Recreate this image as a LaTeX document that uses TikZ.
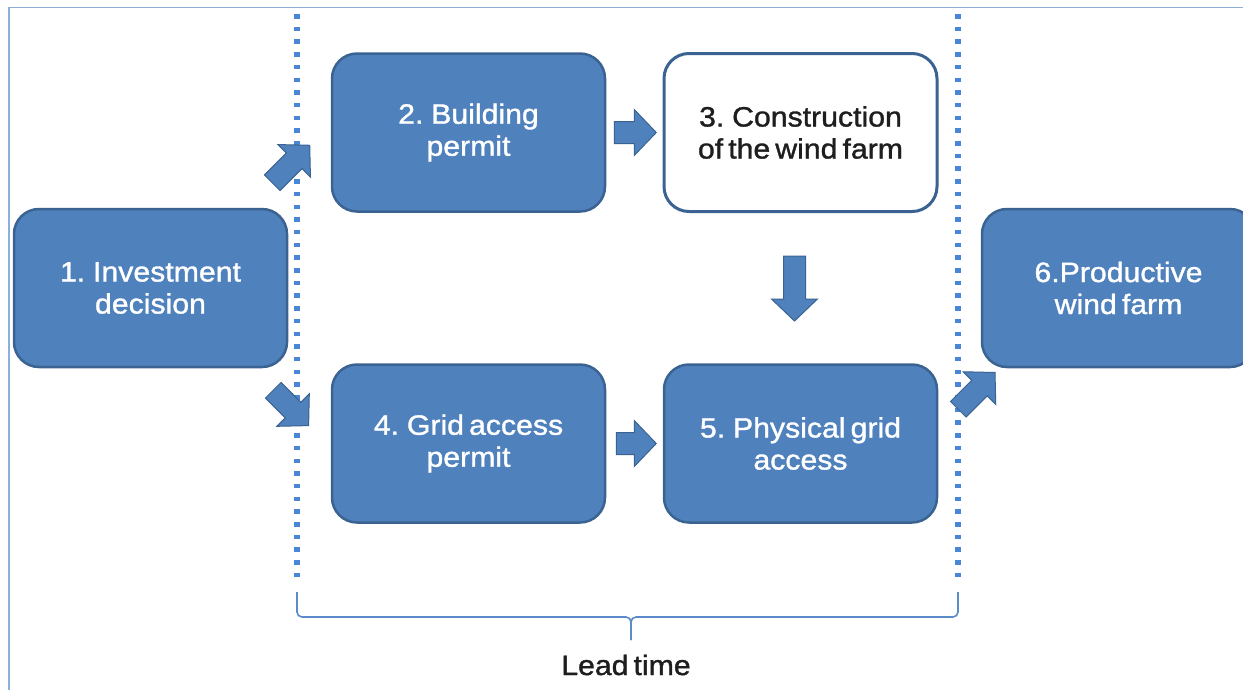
\documentclass[tikz,border=0pt]{standalone}
\usepackage{fontspec}
\setmainfont{Liberation Sans}
\newfontfamily\diagfont[FakeStretch=1.08, FakeBold=1.2, WordSpace=0.6]{Liberation Sans}
\usetikzlibrary{calc}

\definecolor{boxfill}{HTML}{4F81BD}
\definecolor{boxline}{HTML}{3A6391}
\definecolor{dotline}{HTML}{4A86D6}
\definecolor{framecol}{HTML}{8EB0D8}
\definecolor{bracecol}{HTML}{5B8BC9}
\definecolor{inktext}{HTML}{1E1E1E}

\tikzset{
  basebox/.style={rounded corners=25pt, minimum width=273pt, minimum height=158pt,
    line width=2.5pt, draw=boxline, align=center, inner sep=0pt,
    font=\diagfont\fontsize{28}{32}\selectfont},
  bluebox/.style={basebox, fill=boxfill, text=white},
  whitebox/.style={basebox, fill=white, text=inktext, line width=3pt},
  arrowshape/.style={fill=boxfill, draw=boxline, line width=1pt, line join=miter},
  pics/blockarrow/.style={code={
    \filldraw[arrowshape] (0,-11) -- ({#1-22},-11) -- ({#1-22},-23) -- (#1,0)
      -- ({#1-22},23) -- ({#1-22},11) -- (0,11) -- cycle;}},
  phase/.style={dotline, line width=5.5pt, dash pattern=on 4.5pt off 8.2pt},
  brace/.style={bracecol, line width=1.6pt, rounded corners=5pt},
}

\begin{document}
\begin{tikzpicture}[x=1pt, y=-1pt]
\useasboundingbox (0,0) rectangle (1243,689);
\clip (0,0) rectangle (1243,689);
\fill[white] (0,0) rectangle (1243,689);

% outer frame
\draw[framecol, line width=1.5pt] (9,700) -- (9,7.5) -- (1260,7.5);

% process steps
\node[bluebox]  (b1) at (150.5,288)   {1. Investment\\decision};
\node[bluebox]  (b2) at (468.5,132.5) {2. Building\\permit};
\node[whitebox] (b3) at (800.5,132.5) {3. Construction\\of the wind farm};
\node[bluebox]  (b4) at (468.5,443.5) {4. Grid access\\permit};
\node[bluebox]  (b5) at (800.5,443.5) {5. Physical grid\\access};
\node[bluebox]  (b6) at (1118.5,288)  {6.Productive\\wind farm};

% lead-time boundaries
\coordinate (l1) at (297,14);
\coordinate (l2) at (297,582);
\coordinate (r1) at (958,14);
\coordinate (r2) at (958,582);
\draw[phase] (l1) -- (l2);
\draw[phase] (r1) -- (r2);

% block arrows between the steps
\pic[rotate=45]  at ($(b1.north east)+(-16,-25)$) {blockarrow=53};
\pic[rotate=-45] at ($(b1.south east)+(-15,22)$)  {blockarrow=50};
\pic             at ($(b2.east)+(8,0)$)           {blockarrow=42};
\pic             at ($(b4.east)+(10,0)$)          {blockarrow=40};
\pic[rotate=-90] at ($(b3.south)+(-6,43)$)        {blockarrow=65};
\pic[rotate=45]  at ($(b5.north east)+(20,46)$)   {blockarrow=52};

% brace under the lead-time span
\coordinate (bl) at (297,592);
\coordinate (br) at (958,592);
\coordinate (bm) at (631,617);
\coordinate (bt) at (631,640);
\draw[brace] (bl) |- (bm) -- (bt);
\draw[brace] (br) |- (bm) -- (bt);

\node[font=\diagfont\fontsize{28}{32}\selectfont, text=inktext, anchor=base]
  (lead) at (626,675) {Lead time};
\end{tikzpicture}
\end{document}
